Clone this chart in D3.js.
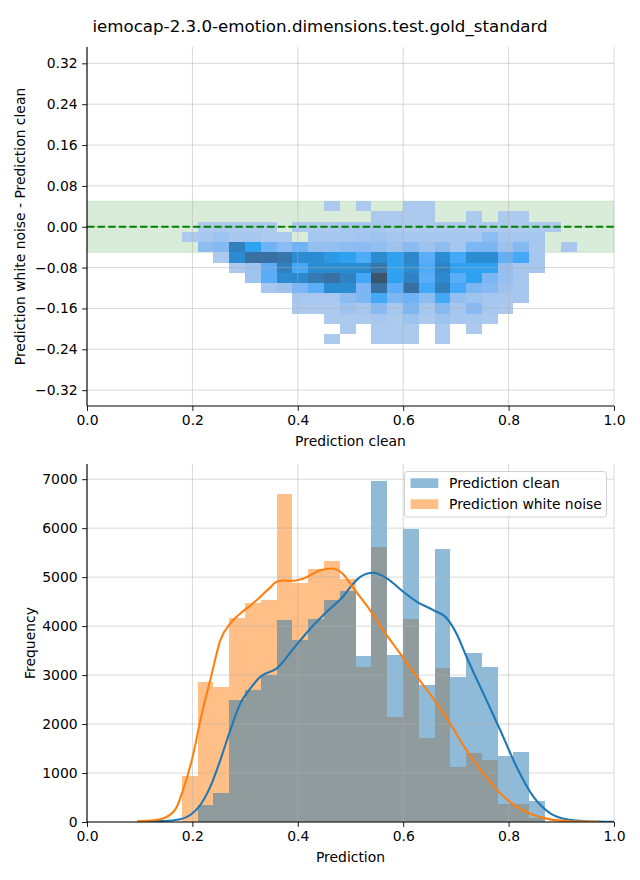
<!DOCTYPE html>
<html><head><meta charset="utf-8">
<script src="https://cdn.jsdelivr.net/npm/d3@7"></script>
<style>
body{margin:0;background:#fff}
svg{display:block}
text{font-family:"DejaVu Sans",sans-serif;fill:#000}
</style>
</head><body>
<svg id="chart" width="640" height="880"></svg>
<script>
// ---------------- DATA ----------------
const title = "iemocap-2.3.0-emotion.dimensions.test.gold_standard";
const xTicks = [0, 0.2, 0.4, 0.6, 0.8, 1.0];
const topYTicks = [-0.32, -0.24, -0.16, -0.08, 0.00, 0.08, 0.16, 0.24, 0.32];
const bottomYTicks = [0, 1000, 2000, 3000, 4000, 5000, 6000, 7000];

// bin edges (Prediction) shared by the 2-D and 1-D histograms
const xEdges = [0.1800, 0.2100, 0.2399, 0.2699, 0.2998, 0.3298, 0.3598, 0.3897, 0.4197,
  0.4496, 0.4796, 0.5096, 0.5395, 0.5695, 0.5994, 0.6294, 0.6594, 0.6893, 0.7193,
  0.7492, 0.7792, 0.8092, 0.8391, 0.8691, 0.8990, 0.9290];
// difference bins (top to bottom)
const yEdges = [0.05, 0.03, 0.01, -0.01, -0.03, -0.05, -0.07, -0.09, -0.11, -0.13,
  -0.15, -0.17, -0.19, -0.21, -0.23];
// 2-D histogram counts (relative), one row per difference bin, top row first
const heatCounts = [
  [0,0,0,0,0,0,0,0,0,3,0,3,0,0,3,3,0,0,0,0,0,0,0,0,0],
  [0,0,0,0,0,0,0,0,0,0,0,0,3,3,3,3,0,0,3,0,3,3,0,0,0],
  [0,3,3,3,3,3,0,3,3,3,5,5,5,3,3,3,3,3,3,3,3,3,3,3,0],
  [3,5,8,5,5,3,3,0,6,6,6,7,8,6,5,5,5,5,6,14,6,6,5,0,0],
  [0,14,17,64,38,23,15,23,12,12,14,15,12,8,15,8,14,6,19,19,9,17,5,0,5],
  [0,0,3,55,77,77,72,55,55,44,38,30,55,38,59,28,55,32,55,55,26,32,6,0,0],
  [0,0,0,3,8,28,64,32,55,55,55,55,72,38,55,30,62,38,38,38,12,5,5,0,0],
  [0,0,0,0,8,28,55,57,69,77,62,32,100,38,62,28,57,28,38,19,12,5,0,0,0],
  [0,0,0,0,0,5,8,19,28,55,55,19,77,28,77,32,64,32,19,16,8,5,0,0,0],
  [0,0,0,0,0,0,0,5,5,5,14,19,32,19,23,14,32,12,8,6,5,5,0,0,0],
  [0,0,0,0,0,0,0,3,3,3,8,5,16,5,19,5,17,6,16,5,3,0,0,0,0],
  [0,0,0,0,0,0,0,0,0,3,3,3,5,3,8,3,8,5,5,3,0,0,0,0,0],
  [0,0,0,0,0,0,0,0,0,0,3,0,3,3,3,0,3,0,3,0,0,0,0,0,0],
  [0,0,0,0,0,0,0,0,0,3,0,0,3,3,3,0,3,0,0,0,0,0,0,0,0]
];
const bandLimits = [-0.05, 0.05];

// 1-D histograms (23 bins over xEdges[0..23])
const cleanCounts = [10, 347, 599, 2497, 2701, 3000, 4122, 3714, 4143, 4531, 4714, 3388,
  6959, 3408, 5980, 2796, 5571, 2959, 3449, 3163, 1354, 1429, 429];
const noiseCounts = [945, 2864, 2755, 4170, 4469, 4537, 6700, 4884, 5170, 5333, 4966, 3170,
  5612, 2143, 4143, 1721, 3143, 1129, 1408, 1272, 374, 374, 88];

// KDE curves
const kdeCleanX = [0.10, 0.127, 0.16, 0.177, 0.196, 0.215, 0.234, 0.253, 0.272, 0.291, 0.310,
  0.329, 0.360, 0.392, 0.424, 0.455, 0.487, 0.50, 0.518, 0.543, 0.569, 0.600, 0.626,
  0.657, 0.683, 0.701, 0.720, 0.752, 0.784, 0.815, 0.847, 0.879, 0.910, 0.94, 0.97, 1.0];
const kdeCleanY = [3, 15, 30, 54, 143, 347, 721, 1265, 1878, 2422, 2728,
  2966, 3136, 3544, 3952, 4293, 4620, 4800, 5000, 5088, 4973, 4701, 4497,
  4327, 4156, 3850, 3374, 2626, 1878, 1129, 517, 177, 54, 20, 8, 3];
const kdeNoiseX = [0.095, 0.13, 0.152, 0.17, 0.180, 0.199, 0.218, 0.237, 0.253, 0.272, 0.291,
  0.310, 0.329, 0.345, 0.360, 0.375, 0.388, 0.411, 0.443, 0.465, 0.487, 0.499, 0.511,
  0.537, 0.562, 0.594, 0.626, 0.657, 0.689, 0.720, 0.752, 0.784, 0.815, 0.847, 0.879,
  0.910, 0.94, 0.97];
const kdeNoiseY = [15, 40, 110, 300, 585, 1265, 2218, 3034, 3714, 4054, 4258,
  4420, 4599, 4760, 4905, 4930, 4925, 4973, 5143, 5177, 5050, 4880, 4700,
  4327, 3918, 3442, 2966, 2524, 2014, 1469, 993, 585, 313, 143, 54,
  20, 7, 2];
const seriesNames = ["Prediction clean", "Prediction white noise"];

// ---------------- STYLE / HELPERS ----------------
const C0 = "#1f77b4", C1 = "#ff7f0e";
const FS = 13.9;
const minus = s => s.replace(/-/g, "\u2212");

// seaborn-style colormap from a single color (husl lightness ramp)
const Mh = [[3.2406, -1.5372, -0.4986], [-0.9689, 1.8758, 0.0415], [0.0557, -0.2040, 1.0570]];
const Mi = [[0.4124, 0.3576, 0.1805], [0.2126, 0.7152, 0.0722], [0.0193, 0.1192, 0.9505]];
const refU = 0.19784, refV = 0.46834, labE = 0.008856, labK = 903.3;
function maxChroma(L, H) {
  const hr = H * Math.PI / 180, sH = Math.sin(hr), cH = Math.cos(hr);
  const s1 = Math.pow(L + 16, 3) / 1560896.0;
  const s2 = s1 > 0.008856 ? s1 : L / 903.3;
  let res = Infinity;
  for (const [m1, m2, m3] of Mh) {
    const top = (0.99915 * m1 + 1.05122 * m2 + 1.14460 * m3) * s2;
    const rb = 0.86330 * m3 - 0.17266 * m2;
    const lb = 0.12949 * m3 - 0.38848 * m1;
    const bottom = (rb * sH + lb * cH) * s2;
    for (const t of [0, 1]) {
      const C = L * (top - 1.05122 * t) / (bottom + 0.17266 * sH * t);
      if (C > 0 && C < res) res = C;
    }
  }
  return res;
}
const toLin = c => c > 0.04045 ? Math.pow((c + 0.055) / 1.055, 2.4) : c / 12.92;
const fromLin = c => c <= 0.0031308 ? 12.92 * c : 1.055 * Math.pow(c, 1 / 2.4) - 0.055;
function rgbToHusl(r, g, b) {
  const l = [toLin(r), toLin(g), toLin(b)];
  const [X, Y, Z] = Mi.map(row => row[0] * l[0] + row[1] * l[1] + row[2] * l[2]);
  const d = X + 15 * Y + 3 * Z;
  const vu = 4 * X / d, vv = 9 * Y / d;
  const fy = Y > labE ? Math.cbrt(Y) : 7.787 * Y + 16 / 116;
  const L = 116 * fy - 16;
  const U = 13 * L * (vu - refU), V = 13 * L * (vv - refV);
  const C = Math.hypot(U, V);
  let H = Math.atan2(V, U) * 180 / Math.PI; if (H < 0) H += 360;
  return [H, C / maxChroma(L, H) * 100, L];
}
function huslToRgb(H, S, L) {
  const C = maxChroma(L, H) / 100 * S;
  const hr = H * Math.PI / 180;
  const U = Math.cos(hr) * C, V = Math.sin(hr) * C;
  const t = (L + 16) / 116;
  const vY = t * t * t > labE ? t * t * t : (116 * t - 16) / labK;
  const vu = U / (13 * L) + refU, vv = V / (13 * L) + refV;
  const Y = vY;
  const X = -(9 * Y * vu) / ((vu - 4) * vv - vu * vv);
  const Z = (9 * Y - 15 * vv * Y - vv * X) / (3 * vv);
  return Mh.map(row => Math.min(1, Math.max(0, fromLin(row[0] * X + row[1] * Y + row[2] * Z))));
}
const base = d3.rgb(C0);
const [hh, ss] = rgbToHusl(base.r / 255, base.g / 255, base.b / 255);
const nXX = Math.floor(1.15 * 256);
const cmapColors = [];
for (let i = 0; i < 256; i++) {
  const xx = -1 + 2 * i / (nXX - 1);
  const L = 35 + 45 * i / 255;
  const [r, g, b] = huslToRgb(hh, ss * Math.cos(xx), L);
  cmapColors.push(d3.rgb(r * 255, g * 255, b * 255).formatHex());
}
cmapColors.reverse();

const svg = d3.select("#chart");

// ---------------- TITLE ----------------
svg.append("text").attr("x", 320).attr("y", 32).attr("text-anchor", "middle")
  .style("font-size", "16.67px").text(title);

function grid(g, x, y, xt, yt, x0, x1, y0, y1) {
  const gg = g.append("g").attr("stroke", "#b0b0b0").attr("stroke-opacity", 0.55).attr("stroke-width", 0.9);
  xt.forEach(v => gg.append("line").attr("x1", x(v)).attr("x2", x(v)).attr("y1", y0).attr("y2", y1));
  yt.forEach(v => gg.append("line").attr("x1", x0).attr("x2", x1).attr("y1", y(v)).attr("y2", y(v)));
}
function styleAxis(sel) {
  sel.select(".domain").remove();
  sel.selectAll(".tick line").attr("stroke", "#000").attr("stroke-width", 0.9);
  sel.selectAll(".tick text").style("font-size", FS + "px").style("font-family", '"DejaVu Sans",sans-serif').attr("fill", "#000");
}

// ---------------- TOP PANEL ----------------
const L = 87, R = 614;
const tT = 47, tB = 406;
const xTop = d3.scaleLinear().domain([0, 1]).range([L, R]);
const yTop = d3.scaleLinear().domain([-0.351, 0.352]).range([tB, tT]);
const gTop = svg.append("g");

// tolerance band
gTop.append("rect").attr("x", xTop(0)).attr("width", xTop(1) - xTop(0))
  .attr("y", yTop(bandLimits[1])).attr("height", yTop(bandLimits[0]) - yTop(bandLimits[1]))
  .attr("fill", "green").attr("fill-opacity", 0.15)
  .attr("stroke", "green").attr("stroke-opacity", 0.12).attr("stroke-width", 1);

// heatmap cells
const cells = [];
heatCounts.forEach((row, ri) => row.forEach((c, ci) => {
  if (c > 0) cells.push({x0: xEdges[ci], x1: xEdges[ci + 1], y0: yEdges[ri + 1], y1: yEdges[ri], c});
}));
const allC = cells.map(d => d.c);
const norm = d3.scaleLinear().domain([d3.min(allC), d3.max(allC)]).range([0, 1]).clamp(true);
const cmap = t => cmapColors[Math.min(255, Math.floor(t * 256))];
gTop.append("g").selectAll("rect").data(cells).join("rect")
  .attr("x", d => xTop(d.x0)).attr("width", d => xTop(d.x1) - xTop(d.x0))
  .attr("y", d => yTop(d.y1)).attr("height", d => yTop(d.y0) - yTop(d.y1))
  .attr("fill", d => cmap(norm(d.c))).attr("shape-rendering", "crispEdges");

grid(gTop, xTop, yTop, xTicks, topYTicks, L, R, tT, tB);

// zero line
gTop.append("line").attr("x1", xTop(0)).attr("x2", xTop(1)).attr("y1", yTop(0)).attr("y2", yTop(0))
  .attr("stroke", "green").attr("stroke-width", 2).attr("stroke-dasharray", "7.4,3.2");

// axes
gTop.append("g").attr("transform", `translate(0,${tB})`)
  .call(d3.axisBottom(xTop).tickValues(xTicks).tickFormat(d3.format(".1f")).tickSize(4.9).tickPadding(4.5))
  .call(styleAxis);
gTop.append("g").attr("transform", `translate(${L},0)`)
  .call(d3.axisLeft(yTop).tickValues(topYTicks).tickFormat(v => minus(d3.format(".2f")(Math.abs(v) < 1e-9 ? 0 : v))).tickSize(4.9).tickPadding(4.5))
  .call(styleAxis);
gTop.append("line").attr("x1", L).attr("x2", L).attr("y1", tT).attr("y2", tB).attr("stroke", "#000").attr("stroke-width", 1.1);
gTop.append("line").attr("x1", L).attr("x2", R).attr("y1", tB).attr("y2", tB).attr("stroke", "#000").attr("stroke-width", 1.1);
svg.append("text").attr("x", (L + R) / 2).attr("y", 446).attr("text-anchor", "middle").style("font-size", FS + "px").text("Prediction clean");
svg.append("text").attr("transform", `translate(25,${(tT + tB) / 2}) rotate(-90)`).attr("text-anchor", "middle")
  .style("font-size", FS + "px").text("Prediction white noise - Prediction clean");

// ---------------- BOTTOM PANEL ----------------
const bT = 464, bB = 822;
const xBot = d3.scaleLinear().domain([0, 1]).range([L, R]);
const yBot = d3.scaleLinear().domain([0, 7310]).range([bB, bT]);
const gBot = svg.append("g");
svg.append("defs").append("clipPath").attr("id", "clipB").append("rect")
  .attr("x", L).attr("y", bT).attr("width", R - L).attr("height", bB - bT);

function bars(counts, color) {
  gBot.append("g").selectAll("rect").data(counts).join("rect")
    .attr("x", (d, i) => xBot(xEdges[i])).attr("width", (d, i) => xBot(xEdges[i + 1]) - xBot(xEdges[i]))
    .attr("y", d => yBot(d)).attr("height", d => yBot(0) - yBot(d))
    .attr("fill", color).attr("fill-opacity", 0.5).attr("shape-rendering", "crispEdges");
}
bars(noiseCounts, C1);
bars(cleanCounts, C0);

grid(gBot, xBot, yBot, xTicks, bottomYTicks, L, R, bT, bB);

const line = d3.line().x(d => xBot(d[0])).y(d => yBot(d[1])).curve(d3.curveMonotoneX);
const gLines = gBot.append("g").attr("clip-path", "url(#clipB)");
gLines.append("path").attr("d", line(kdeCleanX.map((v, i) => [v, kdeCleanY[i]])))
  .attr("fill", "none").attr("stroke", C0).attr("stroke-width", 2.08);
gLines.append("path").attr("d", line(kdeNoiseX.map((v, i) => [v, kdeNoiseY[i]])))
  .attr("fill", "none").attr("stroke", C1).attr("stroke-width", 2.08);

gBot.append("g").attr("transform", `translate(0,${bB})`)
  .call(d3.axisBottom(xBot).tickValues(xTicks).tickFormat(d3.format(".1f")).tickSize(4.9).tickPadding(4.5))
  .call(styleAxis);
gBot.append("g").attr("transform", `translate(${L},0)`)
  .call(d3.axisLeft(yBot).tickValues(bottomYTicks).tickFormat(d3.format("d")).tickSize(4.9).tickPadding(4.5))
  .call(styleAxis);
gBot.append("line").attr("x1", L).attr("x2", L).attr("y1", bT).attr("y2", bB).attr("stroke", "#000").attr("stroke-width", 1.1);
gBot.append("line").attr("x1", L).attr("x2", R).attr("y1", bB).attr("y2", bB).attr("stroke", "#000").attr("stroke-width", 1.1);
svg.append("text").attr("x", (L + R) / 2).attr("y", 862).attr("text-anchor", "middle").style("font-size", FS + "px").text("Prediction");
svg.append("text").attr("transform", `translate(35,${(bT + bB) / 2}) rotate(-90)`).attr("text-anchor", "middle")
  .style("font-size", FS + "px").text("Frequency");

// legend
const lg = svg.append("g");
lg.append("rect").attr("x", 404.5).attr("y", 471.5).attr("width", 202).attr("height", 45.5).attr("rx", 3)
  .attr("fill", "#fff").attr("fill-opacity", 0.8).attr("stroke", "#d0d0d0").attr("stroke-width", 1);
[C0, C1].forEach((c, i) => {
  lg.append("rect").attr("x", 410.5).attr("y", 478.3 + i * 21).attr("width", 27.8).attr("height", 9.7)
    .attr("fill", c).attr("fill-opacity", 0.5);
  lg.append("text").attr("x", 449).attr("y", 488 + i * 21).style("font-size", FS + "px").text(seriesNames[i]);
});
</script>
</body></html>
